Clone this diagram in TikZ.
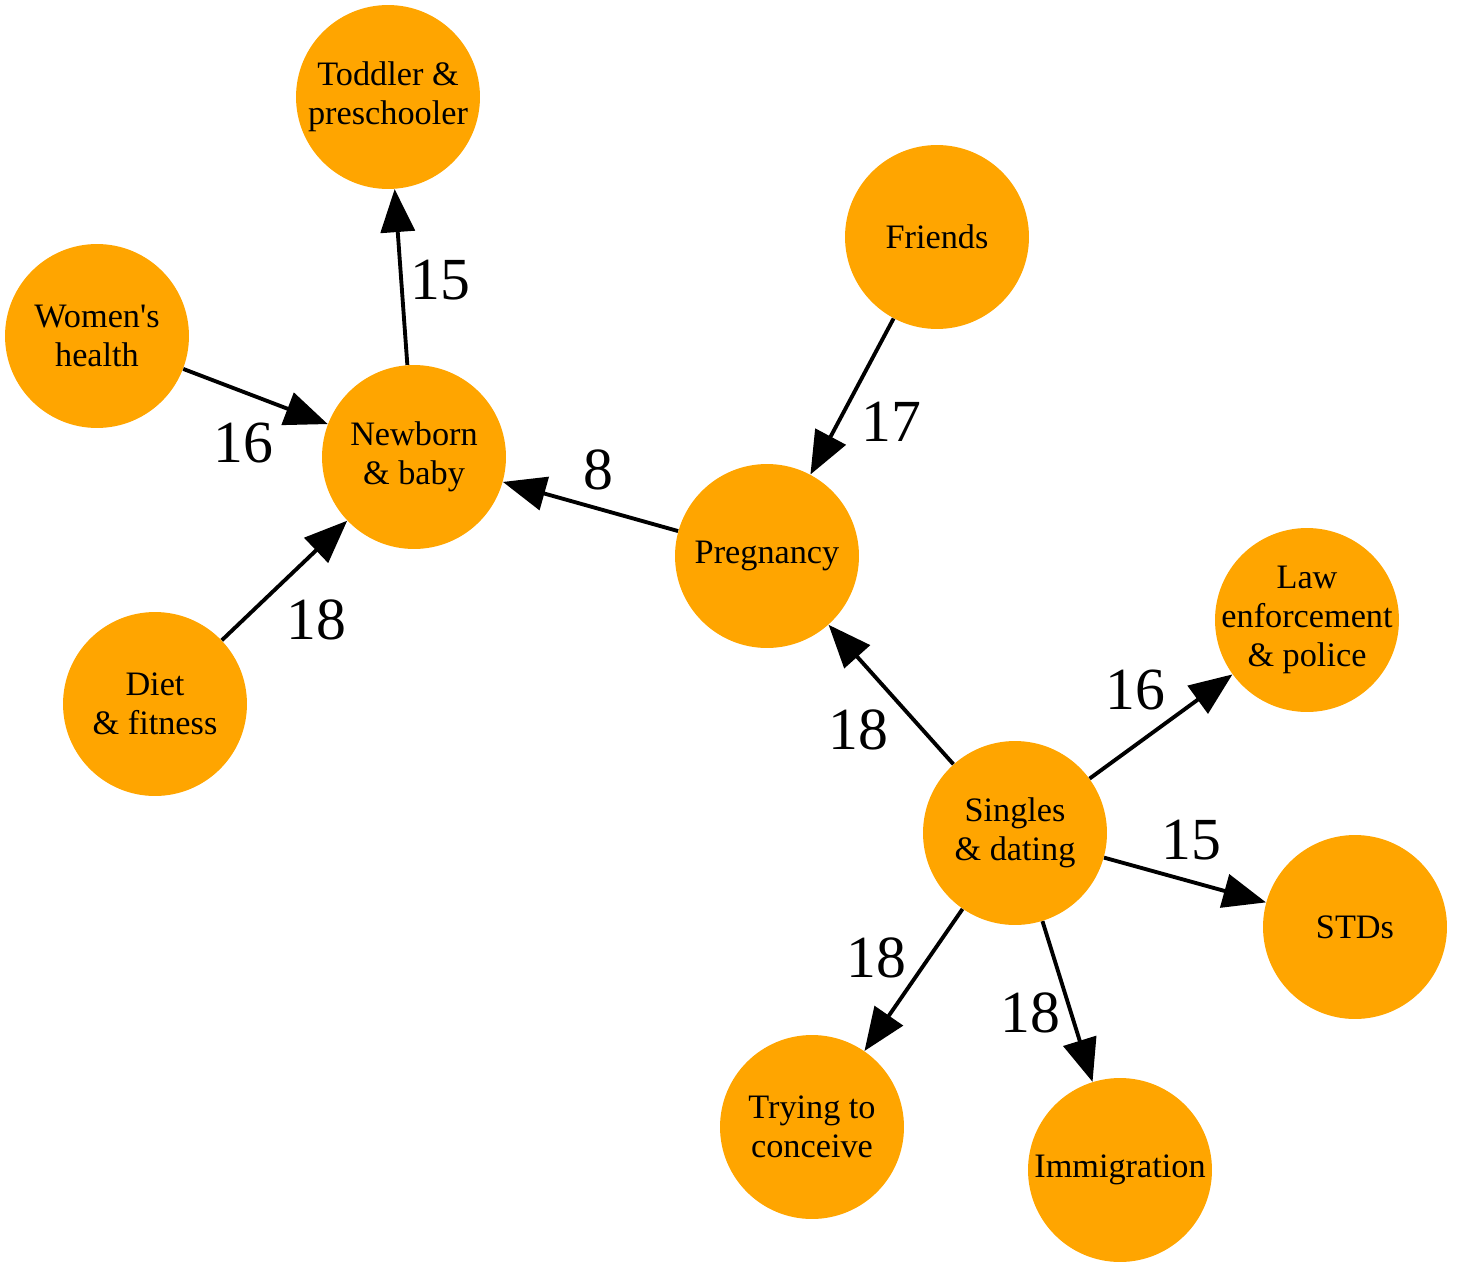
\documentclass[tikz,border=0pt]{standalone}
\usepackage{fontspec}
\setmainfont{Liberation Serif}
\usepackage{tikz}
\usetikzlibrary{arrows.meta}
\definecolor{topicorange}{RGB}{255,165,0}
\tikzstyle{topic} = [circle, minimum size=3.68cm, inner sep=0pt, align=center, fill=topicorange, font=\fontsize{19.5}{22}\selectfont]
\tikzstyle{weight} = [inner sep=0pt, font=\fontsize{34}{40}\selectfont]
\tikzstyle{arrow} = [line width=2.2pt, -{Triangle[length=0.86cm, width=0.68cm]}]

\begin{document}
\begin{tikzpicture}[x=0.02cm, y=-0.02cm]
        \useasboundingbox (0,0) rectangle (1468,1264);

        \node (Toddler) [topic] at (388,97) {Toddler \&\\preschooler};
        \node (Friends) [topic] at (937,237) {Friends};
        \node (WomensHealth) [topic] at (97,336) {Women\textquotesingle s\\health};
        \node (Newborn) [topic] at (414,457) {Newborn\\\& baby};
        \node (Pregnancy) [topic] at (767,556) {Pregnancy};
        \node (LawEnforcement) [topic, inner sep=-8pt] at (1307,620) {Law\\enforcement\\\& police};
        \node (DietFitness) [topic] at (155,704) {Diet\\\& fitness};
        \node (Singles) [topic] at (1015,833) {Singles\\\& dating};
        \node (STDs) [topic] at (1355,927) {STDs};
        \node (TryingConceive) [topic] at (812,1127) {Trying to\\conceive};
        \node (Immigration) [topic] at (1120,1170) {Immigration};

        \draw [arrow] (Newborn) -- (Toddler);
        \draw [arrow] (WomensHealth) -- (Newborn);
        \draw [arrow] (DietFitness) -- (Newborn);
        \draw [arrow] (Pregnancy) -- (Newborn);
        \draw [arrow] (Friends) -- (Pregnancy);
        \draw [arrow] (Singles) -- (Pregnancy);
        \draw [arrow] (Singles) -- (LawEnforcement);
        \draw [arrow] (Singles) -- (STDs);
        \draw [arrow] (Singles) -- (TryingConceive);
        \draw [arrow] (Singles) -- (Immigration);

        \node (wToddler) [weight] at (440,280) {15};
        \node (wWomensHealth) [weight] at (243,443) {16};
        \node (wDietFitness) [weight] at (316,620) {18};
        \node (wPregnancy) [weight] at (598,470) {8};
        \node (wFriends) [weight] at (891,422) {17};
        \node (wSingles) [weight] at (858,730) {18};
        \node (wLawEnforcement) [weight] at (1135,690) {16};
        \node (wSTDs) [weight] at (1191,840) {15};
        \node (wTryingConceive) [weight] at (876,958) {18};
        \node (wImmigration) [weight] at (1030,1013) {18};

      \end{tikzpicture}
\end{document}
